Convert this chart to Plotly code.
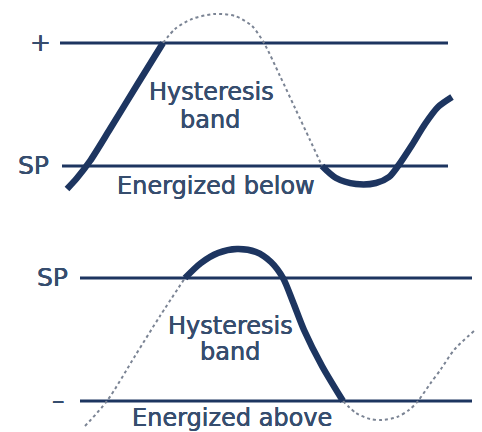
import plotly.graph_objects as go

# ---- diagram data (pixel-space coordinates of the drawing, y grows downward) ----
# Top panel: "Energized below"
top_levels_y = [43, 166]                 # "+" threshold, SP
top_levels_x0 = [60, 62]
top_levels_x1 = [448, 448]
top_level_labels = ["+", "SP"]
top_label_x = [40, 33]

top_rise_x = [67, 77, 90, 110, 137, 163]
top_rise_y = [189, 178, 161, 129, 85, 43]
top_dot_x = [163, 175, 192, 214, 235, 252, 264, 280, 295, 310, 322]
top_dot_y = [43, 29, 19, 14, 16, 26, 43, 76, 108, 140, 166]
top_dip_x = [322, 336, 356, 376, 389, 398, 412, 425, 438, 452]
top_dip_y = [166, 178, 184, 183, 177, 166, 145, 124, 107, 97]

# Bottom panel: "Energized above"
bot_levels_y = [278, 401]                # SP, "–" threshold
bot_levels_x0 = [80, 80]
bot_levels_x1 = [472, 472]
bot_level_labels = ["SP", "–"]
bot_label_x = [52, 58]

bot_dot1_x = [85, 107, 135, 160, 185]
bot_dot1_y = [426, 401, 356, 316, 278]
bot_arc_x = [185, 201, 218, 237, 256, 271, 283, 293, 304, 322, 343]
bot_arc_y = [278, 263, 253, 249, 252, 262, 278, 302, 330, 366, 401]
bot_dot2_x = [343, 356, 370, 382, 397, 409, 418, 430, 441, 454, 474]
bot_dot2_y = [401, 413, 419, 420, 417, 410, 401, 384, 369, 350, 331]

texts = ["Hysteresis", "band", "Energized below", "Hysteresis", "band", "Energized above"]
text_x = [211, 210, 216, 230, 230, 232]
text_y = [92, 120, 186, 326, 352, 418]

NAVY = "#1d3560"
TEXT = "#364d6e"
DOT = "#7b8494"
SHADOW = "0.2px 0 0 #364d6e, -0.2px 0 0 #364d6e"

fig = go.Figure()

# level lines
for ys, x0s, x1s in [(top_levels_y, top_levels_x0, top_levels_x1),
                     (bot_levels_y, bot_levels_x0, bot_levels_x1)]:
    for y, x0, x1 in zip(ys, x0s, x1s):
        fig.add_trace(go.Scatter(x=[x0, x1], y=[y, y], mode="lines",
                                 line=dict(color=NAVY, width=3),
                                 hoverinfo="skip", showlegend=False))

# dotted parts
for xs, ys in [(top_dot_x, top_dot_y), (bot_dot1_x, bot_dot1_y), (bot_dot2_x, bot_dot2_y)]:
    fig.add_trace(go.Scatter(x=xs, y=ys, mode="lines",
                             line=dict(color=DOT, width=2, dash="dot", shape="spline", smoothing=0.8),
                             hoverinfo="skip", showlegend=False))

# thick parts
for xs, ys in [(top_rise_x, top_rise_y), (top_dip_x, top_dip_y), (bot_arc_x, bot_arc_y)]:
    fig.add_trace(go.Scatter(x=xs, y=ys, mode="lines",
                             line=dict(color=NAVY, width=6.5, shape="spline", smoothing=0.8),
                             hoverinfo="skip", showlegend=False))

annotations = []
for t, x, y in zip(texts, text_x, text_y):
    annotations.append(dict(x=x, y=y, text=t, showarrow=False, xanchor="center", yanchor="middle",
                            font=dict(family="DejaVu Sans", size=24, color=TEXT, shadow=SHADOW)))
for labels, lx, ly in [(top_level_labels, top_label_x, top_levels_y),
                       (bot_level_labels, bot_label_x, bot_levels_y)]:
    for t, x, y in zip(labels, lx, ly):
        annotations.append(dict(x=x, y=y - 1, text=t, showarrow=False, xanchor="center", yanchor="middle",
                                font=dict(family="DejaVu Sans", size=25, color=TEXT, shadow=SHADOW)))

fig.update_layout(
    width=482, height=432,
    margin=dict(l=0, r=0, t=0, b=0),
    paper_bgcolor="white", plot_bgcolor="white",
    xaxis=dict(range=[0, 482], visible=False, fixedrange=True),
    yaxis=dict(range=[432, 0], visible=False, fixedrange=True),
    annotations=annotations,
    showlegend=False,
)

fig.write_html("out.html", config={"displayModeBar": False},
               post_script="document.body.style.margin='0';document.body.style.overflow='hidden';")
